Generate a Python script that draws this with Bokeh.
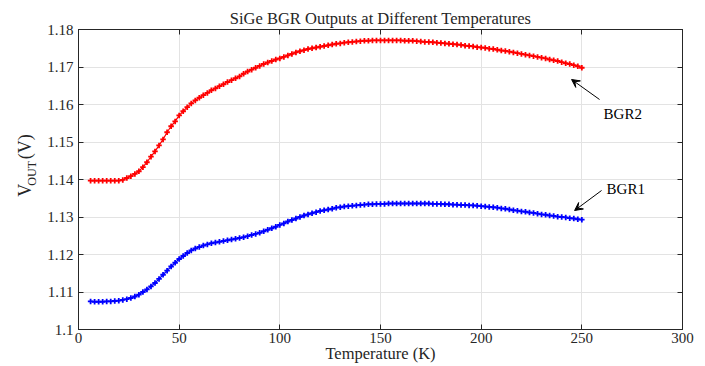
from bokeh.plotting import figure
from bokeh.layouts import row
from bokeh.models import (Range1d, FixedTicker, LinearAxis, CustomJSTickFormatter,
                          Label, Arrow, VeeHead, ColumnDataSource, Grid, Title)
from bokeh.embed import file_html
from bokeh.resources import INLINE

# ---------------- data ----------------
temperature = list(range(6, 251, 2))

bgr2 = [1.1397, 1.1397, 1.1397, 1.1397, 1.1397, 1.1397, 1.1397, 1.1397,  # 6-20
        1.1399, 1.1404, 1.1409, 1.1415, 1.1422, 1.1433, 1.1446, 1.1461,  # 22-36
        1.1475, 1.1491, 1.1507, 1.1526, 1.1542, 1.1555, 1.1571, 1.1582,  # 38-52
        1.1593, 1.1603, 1.1611, 1.1618, 1.1625, 1.1631, 1.1638, 1.1643,  # 54-68
        1.1649, 1.1654, 1.1660, 1.1665, 1.1670, 1.1675, 1.1682, 1.1688,  # 70-84
        1.1693, 1.1698, 1.1703, 1.1708, 1.1712, 1.1716, 1.1720, 1.1723,  # 86-100
        1.1727, 1.1731, 1.1735, 1.1739, 1.1742, 1.1745, 1.1748, 1.1750,  # 102-116
        1.1752, 1.1754, 1.1756, 1.1758, 1.1760, 1.1762, 1.1763, 1.1765,  # 118-132
        1.1766, 1.1767, 1.1768, 1.1769, 1.1770, 1.1770, 1.1771, 1.1771,  # 134-148
        1.1771, 1.1771, 1.1771, 1.1771, 1.1771, 1.1771, 1.1770, 1.1770,  # 150-164
        1.1770, 1.1769, 1.1768, 1.1767, 1.1767, 1.1766, 1.1765, 1.1764,  # 166-180
        1.1763, 1.1762, 1.1761, 1.1760, 1.1759, 1.1757, 1.1756, 1.1755,  # 182-196
        1.1753, 1.1752, 1.1751, 1.1749, 1.1748, 1.1746, 1.1744, 1.1743,  # 198-212
        1.1741, 1.1739, 1.1737, 1.1735, 1.1733, 1.1731, 1.1729, 1.1727,  # 214-228
        1.1725, 1.1723, 1.1720, 1.1718, 1.1716, 1.1713, 1.1710, 1.1708,  # 230-244
        1.1705, 1.1702, 1.1698]                                          # 246-250

bgr1 = [1.1075, 1.1074, 1.1074, 1.1074, 1.1075, 1.1075, 1.1076, 1.1077,  # 6-20
        1.1079, 1.1081, 1.1084, 1.1088, 1.1093, 1.1100, 1.1107, 1.1115,  # 22-36
        1.1124, 1.1135, 1.1146, 1.1157, 1.1168, 1.1178, 1.1188, 1.1196,  # 38-52
        1.1204, 1.1211, 1.1216, 1.1220, 1.1224, 1.1227, 1.1230, 1.1232,  # 54-68
        1.1234, 1.1236, 1.1238, 1.1240, 1.1242, 1.1244, 1.1246, 1.1249,  # 70-84
        1.1252, 1.1255, 1.1258, 1.1262, 1.1266, 1.1270, 1.1274, 1.1279,  # 86-100
        1.1283, 1.1288, 1.1292, 1.1296, 1.1300, 1.1304, 1.1307, 1.1310,  # 102-116
        1.1313, 1.1316, 1.1318, 1.1320, 1.1322, 1.1325, 1.1326, 1.1328,  # 118-132
        1.1329, 1.1330, 1.1331, 1.1332, 1.1333, 1.1334, 1.1334, 1.1335,  # 134-148
        1.1335, 1.1335, 1.1336, 1.1336, 1.1336, 1.1336, 1.1336, 1.1336,  # 150-164
        1.1336, 1.1336, 1.1336, 1.1336, 1.1336, 1.1335, 1.1335, 1.1335,  # 166-180
        1.1334, 1.1334, 1.1333, 1.1333, 1.1332, 1.1332, 1.1331, 1.1331,  # 182-196
        1.1330, 1.1329, 1.1328, 1.1327, 1.1326, 1.1325, 1.1323, 1.1322,  # 198-212
        1.1320, 1.1318, 1.1317, 1.1315, 1.1314, 1.1312, 1.1311, 1.1309,  # 214-228
        1.1307, 1.1306, 1.1304, 1.1303, 1.1301, 1.1300, 1.1299, 1.1297,  # 230-244
        1.1296, 1.1294, 1.1293]                                          # 246-250

x_ticks = [0, 50, 100, 150, 200, 250, 300]
y_ticks = [1.10, 1.11, 1.12, 1.13, 1.14, 1.15, 1.16, 1.17, 1.18]

title_text = "SiGe BGR Outputs at Different Temperatures"
x_label = "Temperature (K)"
y_label_parts = ["V", "OUT", "(V)"]
series_names = ["BGR1", "BGR2"]

# ---------------- styling ----------------
FONT = "Liberation Serif"
AX = "#262626"
GRID = "#e3e3e3"
W_LEFT = 40

p = figure(width=705 - W_LEFT, height=366, output_backend="svg", toolbar_location=None,
           x_range=Range1d(0, 300), y_range=Range1d(1.10, 1.18),
           x_axis_type=None, y_axis_type=None,
           min_border_left=78 - W_LEFT, min_border_right=23,
           min_border_top=29, min_border_bottom=37)
p.outline_line_color = AX
p.outline_line_width = 1
p.background_fill_color = "white"
p.border_fill_color = "white"

p.title = Title(text=title_text, align="center", text_font=FONT,
                text_font_size="16.5px", text_font_style="normal",
                text_color=AX, standoff=3)

ytf = CustomJSTickFormatter(code="return tick.toFixed(2).replace(/0$/, '');")
blank = CustomJSTickFormatter(code="return '';")


def style_axis(ax, labels=True):
    ax.axis_line_color = AX
    ax.axis_line_width = 1
    ax.major_tick_line_color = AX
    ax.major_tick_in = 5
    ax.major_tick_out = 0
    ax.minor_tick_line_color = None
    ax.major_label_text_font = FONT
    ax.major_label_text_color = AX
    if labels:
        ax.major_label_text_font_size = "15px"
    else:
        ax.major_label_text_font_size = "0px"
        ax.major_label_standoff = 0


xb = LinearAxis(ticker=FixedTicker(ticks=x_ticks))
style_axis(xb)
xb.major_label_standoff = 3
xb.axis_label = x_label
xb.axis_label_text_font = FONT
xb.axis_label_text_font_size = "16.5px"
xb.axis_label_text_font_style = "normal"
xb.axis_label_text_color = AX
xb.axis_label_standoff = -2
p.add_layout(xb, "below")

yl = LinearAxis(ticker=FixedTicker(ticks=y_ticks), formatter=ytf)
style_axis(yl)
yl.major_label_standoff = 5
p.add_layout(yl, "left")

xt = LinearAxis(ticker=FixedTicker(ticks=x_ticks), formatter=blank)
style_axis(xt, labels=False)
p.add_layout(xt, "above")

yr = LinearAxis(ticker=FixedTicker(ticks=y_ticks), formatter=blank)
style_axis(yr, labels=False)
p.add_layout(yr, "right")

p.add_layout(Grid(dimension=0, ticker=FixedTicker(ticks=x_ticks),
                  grid_line_color=GRID, grid_line_width=1))
p.add_layout(Grid(dimension=1, ticker=FixedTicker(ticks=y_ticks),
                  grid_line_color=GRID, grid_line_width=1))

src = ColumnDataSource(dict(t=temperature, bgr1=bgr1, bgr2=bgr2))
for col, color in (("bgr2", "#ff0000"), ("bgr1", "#0000ff")):
    p.line("t", col, source=src, line_color=color, line_width=1.2)
    p.scatter("t", col, source=src, marker="cross", size=5.5,
              line_color=color, line_width=1.8)

# series annotations with arrows
p.add_layout(Label(x=260.8, y=1.1576, text=series_names[1], text_align="left",
                   text_baseline="alphabetic", text_font=FONT,
                   text_font_size="15px", text_color="black"))
p.add_layout(Label(x=262.3, y=1.1376, text=series_names[0], text_align="left",
                   text_baseline="alphabetic", text_font=FONT,
                   text_font_size="15px", text_color="black"))
p.add_layout(Arrow(x_start=258.8, y_start=1.16133, x_end=244.9, y_end=1.16667,
                   line_color="black", line_width=1,
                   end=VeeHead(size=8, fill_color="black", line_color="black", line_width=1)))
p.add_layout(Arrow(x_start=259.8, y_start=1.13707, x_end=246.4, y_end=1.13173,
                   line_color="black", line_width=1,
                   end=VeeHead(size=8, fill_color="black", line_color="black", line_width=1)))

# narrow side panel carrying the y-axis label with its subscript (pixel coordinates)
q = figure(width=W_LEFT, height=366, output_backend="svg", toolbar_location=None,
           x_range=Range1d(0, W_LEFT), y_range=Range1d(0, 366),
           x_axis_type=None, y_axis_type=None,
           min_border_left=0, min_border_right=0, min_border_top=0, min_border_bottom=0)
q.outline_line_color = None
q.xgrid.visible = False
q.ygrid.visible = False
q.background_fill_color = "white"
q.border_fill_color = "white"
ang = 1.5707963
q.add_layout(Label(x=24, y=170, text=y_label_parts[0], angle=ang, text_align="center",
                   text_baseline="alphabetic", text_font=FONT,
                   text_font_size="18px", text_color=AX))
q.add_layout(Label(x=31, y=190.5, text=y_label_parts[1], angle=ang, text_align="center",
                   text_baseline="alphabetic", text_font=FONT,
                   text_font_size="12px", text_color=AX))
q.add_layout(Label(x=24, y=223, text=y_label_parts[2], angle=ang, text_align="center",
                   text_baseline="alphabetic", text_font=FONT,
                   text_font_size="18px", text_color=AX))

layout = row(q, p, spacing=0)
open("out.html", "w").write(file_html(layout, INLINE))
